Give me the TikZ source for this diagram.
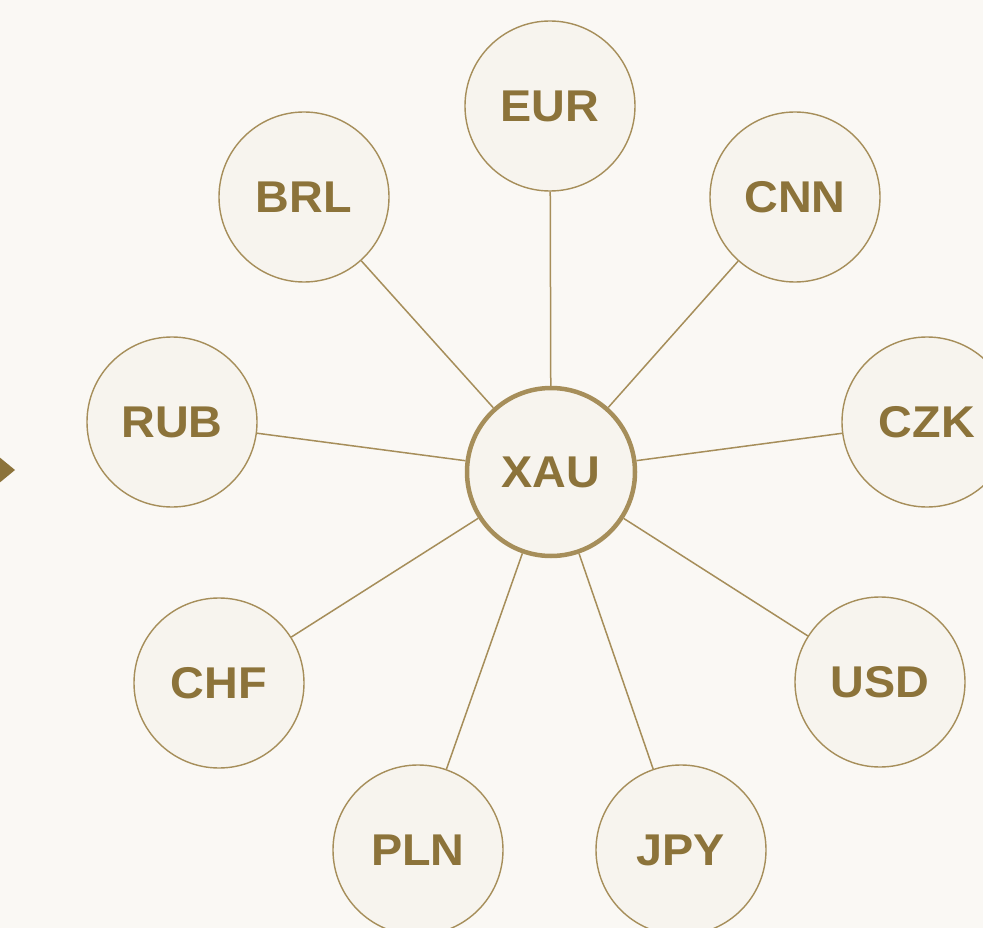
\documentclass[tikz,border=0pt]{standalone}
\usepackage{fontspec}
\setmainfont{Liberation Sans}
\newfontfamily\labfont[FakeStretch=1.05]{Liberation Sans}
\definecolor{bg}{HTML}{FAF8F4}
\definecolor{disc}{HTML}{F7F4EE}
\definecolor{gold}{HTML}{8C733A}
\definecolor{rim}{HTML}{A68E5A}
\begin{document}
\begin{tikzpicture}[x=1pt,y=-1pt,
  cur/.style={circle,draw=rim,line width=1.4pt,fill=disc,minimum size=170pt,inner sep=0pt,
    text=gold,font=\labfont\fontsize{44.5}{44.5}\selectfont\bfseries},
  hub/.style={cur,line width=4.5pt,minimum size=168pt},
  link/.style={draw=rim,line width=1.5pt}]
\useasboundingbox (0,0) rectangle (983,928);
\fill[bg] (0,0) rectangle (983,928);
\node[hub] (xau) at (551,472) {XAU};
\node[cur] (eur) at (550,106) {EUR};
\node[cur] (brl) at (304,197) {BRL};
\node[cur] (cnn) at (795,197) {CNN};
\node[cur] (rub) at (172,422) {RUB};
\node[cur] (czk) at (927,422) {CZK};
\node[cur] (chf) at (219,683) {CHF};
\node[cur] (usd) at (880,682) {USD};
\node[cur] (pln) at (418,850) {PLN};
\node[cur] (jpy) at (681,850) {JPY};
\foreach \n in {eur,brl,cnn,rub,czk,chf,usd,pln,jpy}
  \draw[link] (xau) -- (\n);
\fill[gold] (-2,456) -- (15,470) -- (-2,484) -- cycle;
\end{tikzpicture}
\end{document}
